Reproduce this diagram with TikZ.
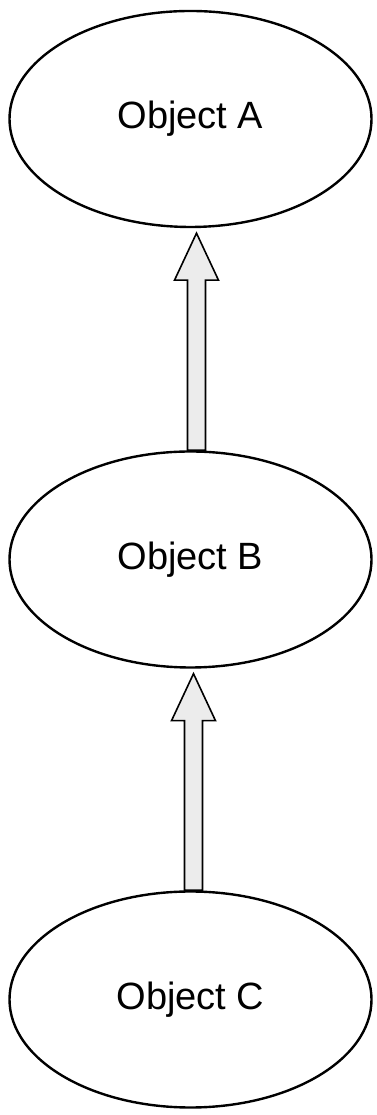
\documentclass[tikz,border=0pt]{standalone}
\usepackage{fontspec}
\setmainfont{Liberation Sans}
\usetikzlibrary{arrows.meta, positioning, calc, shapes.geometric}

% hollow block arrow from the top of #1 up to the bottom of #2, shifted by #3
\newcommand{\blockarr}[3]{%
  \draw[arr] ($(#1.north)+(#3-9,0)$) -- ($(#2.south)+(#3-9,-52)$)
    -- ($(#2.south)+(#3-22,-52)$) -- ($(#2.south)+(#3,-5)$)
    -- ($(#2.south)+(#3+22,-52)$) -- ($(#2.south)+(#3+9,-52)$)
    -- ($(#1.north)+(#3+9,0)$) -- cycle;}

\begin{document}
\begin{tikzpicture}[x=1pt, y=1pt,
    obj/.style={draw, ellipse, line width=2.4pt, minimum width=362pt, minimum height=216pt, inner sep=0pt, font=\fontsize{38}{46}\selectfont},
    arr/.style={draw, line width=1.6pt, fill=gray!15, line join=miter}
]
\useasboundingbox (0,0) rectangle (377,1115);
\node[obj] (A) at (190.5, 996) {Object A};
\node[obj] (B) at (190.5, 555.5) {Object B};
\node[obj] (C) at (190.5, 115.5) {Object C};
\blockarr{B}{A}{6}
\blockarr{C}{B}{3}
\end{tikzpicture}
\end{document}
